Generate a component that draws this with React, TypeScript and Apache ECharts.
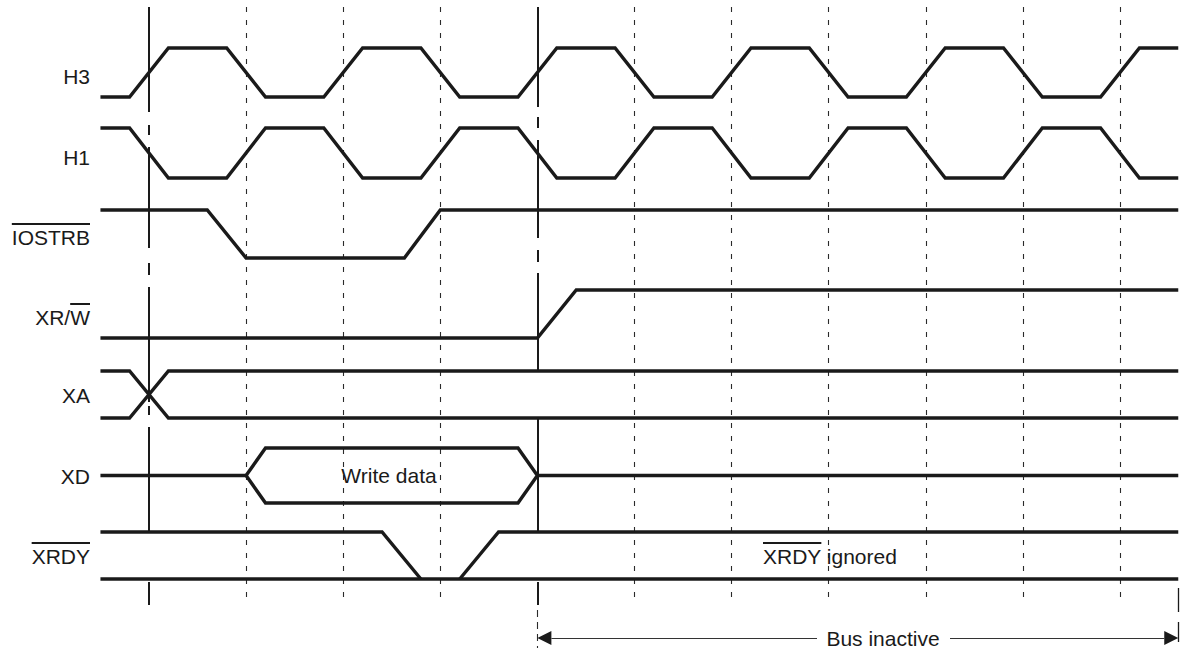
import { useEffect, useRef } from "react";
import * as echarts from "echarts";

// ---------- data (time in half clock cycles, levels 0 = low, 1 = high) ----------
const CLOCK_EDGES = [0, 1, 2, 3, 4, 5, 6, 7, 8, 9, 10];
const T_START = -0.5;
const T_END = 10.6;
const SLEW = 0.2;

const LABELS = ["H3", "H1", "IOSTRB", "XR/W", "XA", "XD", "XRDY"];

const IOSTRB_WAVE = [[T_START, 1], [0.6, 1], [1.0, 0], [2.63, 0], [3.0, 1], [T_END, 1]];
const XRW_WAVE = [[T_START, 0], [4.0, 0], [4.4, 1], [T_END, 1]];
const XA_WAVE_A = [[T_START, 1], [-0.2, 1], [0.2, 0], [T_END, 0]];
const XA_WAVE_B = [[T_START, 0], [-0.2, 0], [0.2, 1], [T_END, 1]];
const XD_IDLE_LEFT = [[T_START, 0.5], [1, 0.5]];
const XD_DATA = [[1, 0.5], [1.2, 1], [3.8, 1], [4, 0.5], [3.8, 0], [1.2, 0], [1, 0.5]];
const XD_IDLE_RIGHT = [[4, 0.5], [T_END, 0.5]];
const XRDY_WAVE_A = [[T_START, 1], [2.4, 1], [2.8, 0]];
const XRDY_WAVE_B = [[T_START, 0], [T_END, 0]];
const XRDY_WAVE_C = [[3.2, 0], [3.6, 1], [T_END, 1]];

const SOLID_MARKS = [0, 4];
const DASHED_MARKS = [1, 2, 3, 5, 6, 7, 8, 9, 10];
const BUS_INACTIVE = [4, 10.6];

// ---------- layout ----------
const W = 1187;
const H = 648;
const X0 = 149;
const PERIOD = 97.1;
const T_MIN = -X0 / PERIOD;
const T_MAX = (W - X0) / PERIOD;
const ROW_Y = [
  [48, 97],
  [128, 178],
  [210, 258],
  [290, 338],
  [371, 418],
  [448, 503],
  [532, 579],
];
const LABEL_Y = [76, 157, 237, 317, 395, 476, 556];
const LABEL_RIGHT = 90;
const MARK_SEGS = [
  [[7, 112], [125, 135], [147, 248], [263, 275], [287, 402], [406, 415], [427, 532], [582, 605]],
  [[7, 107], [117, 128], [140, 238], [250, 262], [273, 372], [419, 532], [582, 605]],
];
const ARROW_Y = 638;
const HEAD_LEN = 14;
const HEAD_HALF = 7;
const FONT = '21px "Liberation Sans", Arial, Helvetica, sans-serif';
const INK = "#1a1a1a";

function clockWave(startLevel: number) {
  const pts: number[][] = [[T_START, startLevel]];
  let lvl = startLevel;
  for (const e of CLOCK_EDGES) {
    pts.push([e - SLEW, lvl]);
    lvl = 1 - lvl;
    pts.push([e + SLEW, lvl]);
  }
  pts.push([T_END, lvl]);
  return pts;
}

function toRow(row: number, wave: number[][]) {
  const [hi, lo] = ROW_Y[row];
  return wave.map(([t, l]) => [t, lo + (hi - lo) * l]);
}

const tx = (px: number) => (px - X0) / PERIOD;
const px = (t: number) => X0 + t * PERIOD;

export default function App() {
  const ref = useRef<HTMLDivElement>(null);
  useEffect(() => {
    const el = ref.current!;
    const chart = echarts.init(el, null, { renderer: "svg" });
    const canvas = document.createElement("canvas");
    const ctx = canvas.getContext("2d")!;
    ctx.font = FONT;
    const mw = (s: string) => ctx.measureText(s).width;

    const waves: number[][][] = [
      toRow(0, clockWave(0)),
      toRow(1, clockWave(1)),
      toRow(2, IOSTRB_WAVE),
      toRow(3, XRW_WAVE),
      toRow(4, XA_WAVE_A),
      toRow(4, XA_WAVE_B),
      toRow(5, XD_IDLE_LEFT),
      toRow(5, XD_DATA),
      toRow(5, XD_IDLE_RIGHT),
      toRow(6, XRDY_WAVE_A),
      toRow(6, XRDY_WAVE_B),
      toRow(6, XRDY_WAVE_C),
    ];

    const solidSegs: any[] = [];
    SOLID_MARKS.forEach((t, i) => {
      MARK_SEGS[i].forEach(([a, b]) => solidSegs.push({ coords: [[t, a], [t, b]] }));
    });

    const graphics: any[] = [];
    LABELS.forEach((lab, i) => {
      graphics.push({
        type: "text",
        silent: true,
        style: {
          text: lab,
          x: LABEL_RIGHT,
          y: LABEL_Y[i],
          align: "right",
          verticalAlign: "middle",
          font: FONT,
          fill: INK,
        },
      });
    });
    const over = (x1: number, x2: number, y: number) =>
      graphics.push({
        type: "line",
        silent: true,
        shape: { x1, y1: y, x2, y2: y },
        style: { stroke: INK, lineWidth: 2 },
      });
    over(LABEL_RIGHT - mw("IOSTRB"), LABEL_RIGHT, LABEL_Y[2] - 13);
    over(LABEL_RIGHT - mw("W"), LABEL_RIGHT, LABEL_Y[3] - 13);
    over(LABEL_RIGHT - mw("XRDY"), LABEL_RIGHT, LABEL_Y[6] - 13);

    const ignoredX = 763;
    graphics.push({
      type: "text",
      silent: true,
      style: { text: "XRDY ignored", x: ignoredX, y: 556, align: "left", verticalAlign: "middle", font: FONT, fill: INK },
    });
    over(ignoredX, ignoredX + mw("XRDY"), 556 - 13);
    graphics.push({
      type: "text",
      silent: true,
      style: { text: "Write data", x: 389, y: 475, align: "center", verticalAlign: "middle", font: FONT, fill: INK },
    });
    graphics.push({
      type: "text",
      silent: true,
      style: { text: "Bus inactive", x: 883, y: ARROW_Y, align: "center", verticalAlign: "middle", font: FONT, fill: INK },
    });
    const leftTip = px(BUS_INACTIVE[0]);
    const rightTip = px(BUS_INACTIVE[1]);
    graphics.push({
      type: "polygon",
      silent: true,
      shape: {
        points: [
          [leftTip, ARROW_Y],
          [leftTip + HEAD_LEN, ARROW_Y - HEAD_HALF],
          [leftTip + HEAD_LEN, ARROW_Y + HEAD_HALF],
        ],
      },
      style: { fill: INK },
    });
    graphics.push({
      type: "polygon",
      silent: true,
      shape: {
        points: [
          [rightTip, ARROW_Y],
          [rightTip - HEAD_LEN, ARROW_Y - HEAD_HALF],
          [rightTip - HEAD_LEN, ARROW_Y + HEAD_HALF],
        ],
      },
      style: { fill: INK },
    });

    chart.setOption({
      animation: false,
      backgroundColor: "#ffffff",
      grid: { left: 0, right: 0, top: 0, bottom: 0 },
      xAxis: { type: "value", min: T_MIN, max: T_MAX, show: false },
      yAxis: { type: "value", min: 0, max: H, inverse: true, show: false },
      series: [
        {
          type: "lines",
          coordinateSystem: "cartesian2d",
          silent: true,
          z: 1,
          lineStyle: { color: "#2a2a2a", width: 1.1, type: [5, 8], opacity: 1 },
          data: DASHED_MARKS.map((t) => ({ coords: [[t, 7], [t, 605]] })),
        },
        {
          type: "lines",
          coordinateSystem: "cartesian2d",
          silent: true,
          z: 2,
          lineStyle: { color: INK, width: 2, type: "solid", opacity: 1 },
          data: solidSegs,
        },
        {
          type: "lines",
          coordinateSystem: "cartesian2d",
          silent: true,
          z: 2,
          lineStyle: { color: "#2a2a2a", width: 1.1, type: [7, 5], opacity: 1 },
          data: [{ coords: [[BUS_INACTIVE[0], 610], [BUS_INACTIVE[0], 648]] }],
        },
        {
          type: "lines",
          coordinateSystem: "cartesian2d",
          silent: true,
          z: 2,
          lineStyle: { color: INK, width: 1.3, type: "solid", opacity: 1 },
          data: [
            { coords: [[BUS_INACTIVE[1], 588], [BUS_INACTIVE[1], 612]] },
            { coords: [[BUS_INACTIVE[1], 622], [BUS_INACTIVE[1], 642]] },
          ],
        },
        {
          type: "lines",
          coordinateSystem: "cartesian2d",
          polyline: true,
          silent: true,
          z: 3,
          lineStyle: { color: INK, width: 3.4, type: "solid", opacity: 1, cap: "butt", join: "miter" },
          data: waves.map((w) => ({ coords: w })),
        },
        {
          type: "lines",
          coordinateSystem: "cartesian2d",
          silent: true,
          z: 3,
          lineStyle: { color: "#333", width: 1.1, type: "solid", opacity: 1 },
          data: [
            { coords: [[BUS_INACTIVE[0] + HEAD_LEN / PERIOD, ARROW_Y], [tx(817), ARROW_Y]] },
            { coords: [[tx(950), ARROW_Y], [BUS_INACTIVE[1] - HEAD_LEN / PERIOD, ARROW_Y]] },
          ],
        },
      ],
      graphic: graphics,
    });
    return () => chart.dispose();
  }, []);
  return (
    <div
      ref={ref}
      style={{ position: "fixed", left: 0, top: 0, width: W, height: H, background: "#fff" }}
    />
  );
}
